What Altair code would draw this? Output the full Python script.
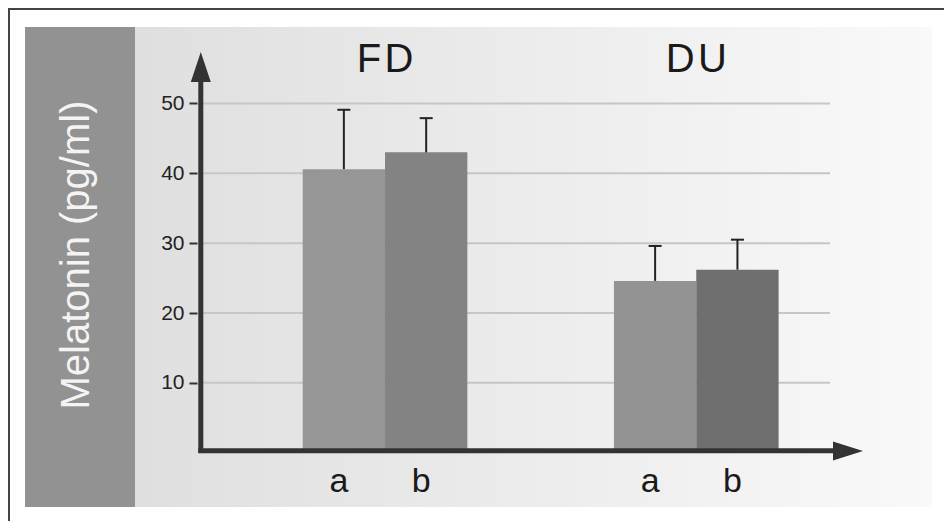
import altair as alt
import pandas as pd

# ---- data ----
group_names = ["FD", "DU"]
groups = ["FD", "FD", "DU", "DU"]
subs = ["a", "b", "a", "b"]
means = [40.6, 43.0, 24.6, 26.2]
upper = [49.1, 47.9, 29.6, 30.5]
bar_colors = ["#969696", "#838383", "#939393", "#6f6f6f"]
y_ticks = [10, 20, 30, 40, 50]
y_title = "Melatonin (pg/ml)"

W, H = 936, 513
keys = [g + s for g, s in zip(groups, subs)]
df = pd.DataFrame({"group": groups, "sub": subs, "mean": means,
                   "upper": upper, "key": keys})
grid_df = pd.DataFrame({"v": y_ticks})
title_df = pd.DataFrame({"group": group_names, "label": ["F\u200aD", "D\u200aU"]})
one = pd.DataFrame({"d": [0]})

yscale = alt.Scale(domain=[-9.78, 63.67], zero=False, nice=False)
yaxis = alt.Axis(values=y_ticks, offset=-189, domain=False, grid=False,
                 tickColor="#333333", tickWidth=2, tickSize=8,
                 labelFontSize=21, labelFont="Liberation Sans",
                 labelColor="#222222", labelPadding=5, title=None, zindex=2)
xscale = alt.Scale(domain=group_names, range=[294.7, 770.6],
                   paddingInner=0.471, paddingOuter=0)

def X():
    return alt.X("group:N", scale=xscale, axis=None, sort=group_names)

def XO():
    return alt.XOffset("sub:N", sort=["a", "b"])

dark = "#333333"

left_panel = alt.Chart(one).mark_rect(color="#929292").encode(
    x=alt.value(17), x2=alt.value(127), y=alt.value(19), y2=alt.value(499))

bg_panel = alt.Chart(one).mark_rect(
    color=alt.Gradient(gradient="linear",
                       stops=[alt.GradientStop(color="#dfdfdf", offset=0),
                              alt.GradientStop(color="#f9f9f9", offset=1)],
                       x1=0, x2=1, y1=0, y2=0)
).encode(x=alt.value(127), x2=alt.value(924), y=alt.value(19), y2=alt.value(499))

border_top = alt.Chart(one).mark_rule(color="#444444", strokeWidth=2).encode(
    x=alt.value(0), x2=alt.value(W), y=alt.value(1))
border_left = alt.Chart(one).mark_rule(color="#444444", strokeWidth=2).encode(
    x=alt.value(1), y=alt.value(0), y2=alt.value(H))

grid = alt.Chart(grid_df).mark_rule(color="#c6c6c6", strokeWidth=2).encode(
    y=alt.Y("v:Q", scale=yscale, axis=yaxis), x=alt.value(192), x2=alt.value(822))

bars = alt.Chart(df).mark_bar(opacity=1).encode(
    x=X(), xOffset=XO(),
    y=alt.Y("mean:Q", scale=yscale, axis=yaxis),
    color=alt.Color("key:N", scale=alt.Scale(domain=keys, range=bar_colors), legend=None))

err = alt.Chart(df).mark_rule(color="#222222", strokeWidth=2).encode(
    x=X(), xOffset=XO(),
    y=alt.Y("mean:Q", scale=yscale, axis=yaxis), y2="upper:Q")

caps = alt.Chart(df).mark_tick(orient="horizontal", color="#222222",
                               thickness=2, size=13, opacity=1).encode(
    x=X(), xOffset=XO(), y=alt.Y("upper:Q", scale=yscale, axis=yaxis))

y_line = alt.Chart(one).mark_rule(color=dark, strokeWidth=5).encode(
    x=alt.value(192.8), y=alt.value(70), y2=alt.value(445))
x_line = alt.Chart(one).mark_rule(color=dark, strokeWidth=5).encode(
    x=alt.value(190.3), x2=alt.value(830), y=alt.value(442.7))

up_arrow = alt.Chart(one).mark_point(
    shape="M0,-1L0.667,1L-0.667,1Z", filled=True, color=dark, size=900,
    opacity=1, strokeWidth=0).encode(x=alt.value(192.8), y=alt.value(59))
right_arrow = alt.Chart(one).mark_point(
    shape="M1,0L-1,-0.633L-1,0.633Z", filled=True, color=dark, size=900,
    opacity=1, strokeWidth=0).encode(x=alt.value(840), y=alt.value(443))

titles = alt.Chart(title_df).mark_text(
    fontSize=40, font="Liberation Sans", color="#1a1a1a",
    baseline="alphabetic", align="center").encode(
    x=X(), y=alt.value(64), text="label:N")

sub_labels = alt.Chart(df).mark_text(
    fontSize=34, font="Liberation Sans", color="#1a1a1a",
    baseline="alphabetic", align="center", dx=-5).encode(
    x=X(), xOffset=XO(), y=alt.value(483.7), text="sub:N")

ylab = alt.Chart(pd.DataFrame({"t": [y_title]})).mark_text(
    angle=270, fontSize=40, font="Liberation Sans", color="#f4f4f4",
    baseline="alphabetic", align="center").encode(
    x=alt.value(81), y=alt.value(247), text="t:N")

chart = alt.layer(
    left_panel, bg_panel, border_top, border_left, grid, bars, err, caps,
    y_line, x_line, up_arrow, right_arrow, titles, sub_labels, ylab
).properties(
    width=W, height=H, padding=0, autosize=alt.AutoSizeParams(type="none"),
    background="white"
).configure_view(stroke=None)

chart.save("out.html", embed_options={"renderer": "svg", "actions": False})
